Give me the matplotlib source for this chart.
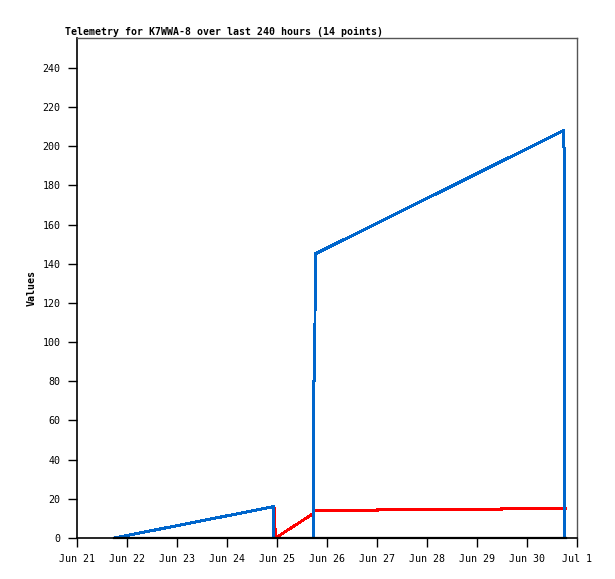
import matplotlib
matplotlib.use("Agg")
import matplotlib.pyplot as plt
import matplotlib.dates as mdates
import numpy as np

title = "Telemetry for K7WWA-8 over last 240 hours (14 points)"
y_label = "Values"

blue_times = ["2023-06-21T17:54", "2023-06-24T22:19", "2023-06-24T22:34",
              "2023-06-25T17:40", "2023-06-25T17:41", "2023-06-25T18:14",
              "2023-06-25T18:15", "2023-06-30T17:25", "2023-06-30T17:26",
              "2023-06-30T17:52", "2023-06-30T17:53"]
blue_vals = [0, 16, 0, 0, 80, 80.5, 145, 208, 200, 199, 0]

red_times = ["2023-06-21T17:54", "2023-06-24T22:19", "2023-06-24T22:36",
             "2023-06-24T22:55", "2023-06-24T23:00", "2023-06-24T23:17",
             "2023-06-25T17:17", "2023-06-25T17:18", "2023-06-27T00:14",
             "2023-06-27T00:15", "2023-06-29T11:46", "2023-06-29T11:47",
             "2023-06-30T18:29"]
red_vals = [0, 16, 16, 7, 7, 0, 12.4, 14, 14, 14.5, 14.5, 15, 15]

black_times = ["2023-06-21T17:54", "2023-06-30T18:29"]
black_vals = [0, 0]

tick_dates = ["2023-06-%02d" % d for d in range(21, 31)] + ["2023-07-01"]
tick_labels = ["Jun 21", "Jun 22", "Jun 23", "Jun 24", "Jun 25", "Jun 26",
               "Jun 27", "Jun 28", "Jun 29", "Jun 30", "Jul 1"]
y_ticks = list(range(0, 241, 20))


def to_num(ts):
    return mdates.date2num(np.array(ts, dtype="datetime64[m]").astype("O"))


W, H = 615, 579
fig = plt.figure(figsize=(W / 100, H / 100), dpi=100)
ax = fig.add_axes([77 / W, 1 - 538 / H, 500 / W, 500 / H])

mono = "DejaVu Sans Mono"

ax.plot(to_num(red_times), red_vals, color="#FF0000", lw=1.3, zorder=2,
        antialiased=False)
ax.plot(to_num(blue_times), blue_vals, color="#0066CC", lw=1.44, zorder=3,
        antialiased=False)
ax.plot(to_num(black_times), black_vals, color="black", lw=1.6, zorder=4,
        clip_on=False)

ax.set_xlim(to_num(["2023-06-21T00:00"])[0], to_num(["2023-07-01T00:00"])[0])
ax.set_ylim(0, 255.3)

ax.set_xticks(to_num(tick_dates))
ax.set_xticklabels(tick_labels, fontfamily=mono, fontsize=7.2)
ax.set_yticks(y_ticks)
ax.set_yticklabels([str(v) for v in y_ticks], fontfamily=mono, fontsize=7.2)
ax.tick_params(axis="both", direction="out", length=6.5, width=1, color="black",
               pad=5)
ax.tick_params(axis="y", pad=5.5)

for s in ["left", "bottom"]:
    ax.spines[s].set_color("black")
    ax.spines[s].set_linewidth(1.2)
for s in ["top", "right"]:
    ax.spines[s].set_color("#555555")
    ax.spines[s].set_linewidth(1.0)

fig.text(65 / W, 1 - 35 / H, title, fontfamily=mono, fontweight="bold",
         fontsize=7.1, ha="left", va="baseline")
fig.text(31.5 / W, 1 - 288 / H, y_label, fontfamily=mono, fontweight="bold",
         fontsize=7.2, rotation=90, ha="center", va="center")

fig.savefig("out.png", dpi=100, facecolor="white")
